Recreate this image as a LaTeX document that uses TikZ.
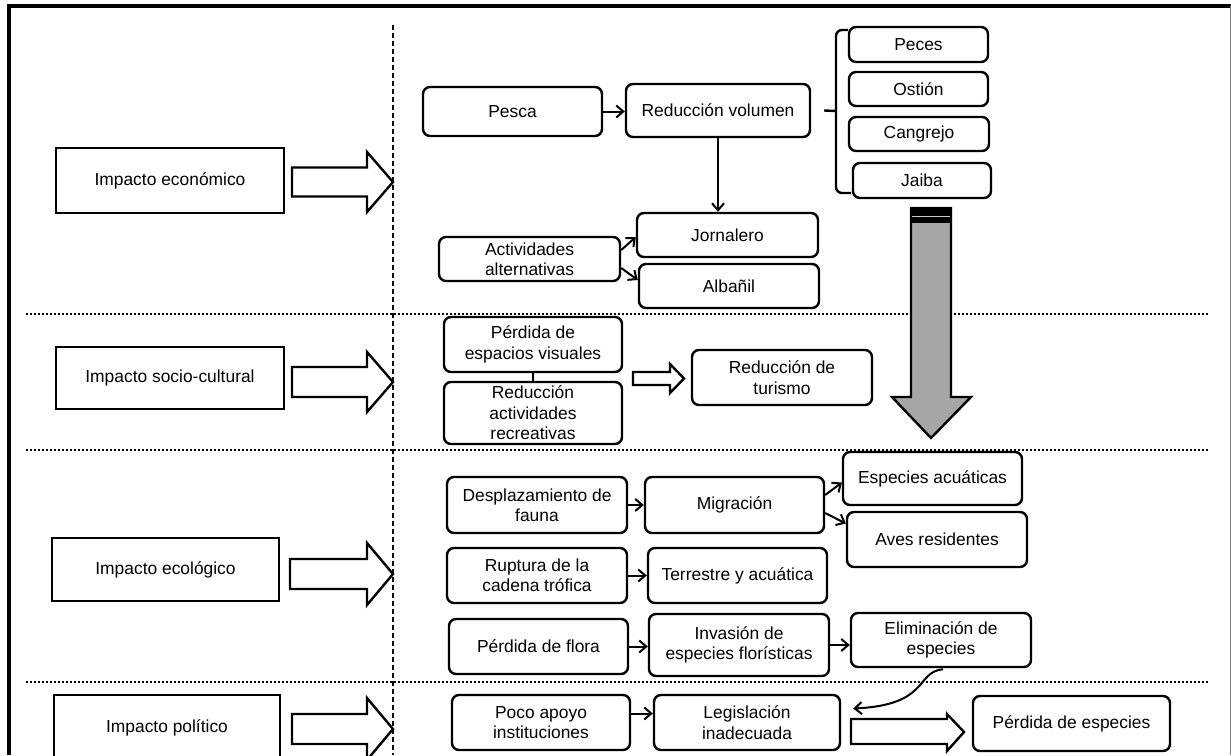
\documentclass[tikz,border=0pt]{standalone}
\usepackage{fontspec}
\setmainfont{Liberation Sans}
\usetikzlibrary{arrows.meta,calc}
\newcommand\mybox[7]{\node[#1, minimum width={(#4-#2)*0.5pt}, minimum height={(#5-#3)*0.5pt}] (#6) at ({(#2+#4)/2},{(#3+#5)/2}) {#7};}
\newcommand\blockarr[6]{\draw[blk] (#1,{#2-#5}) -- (#3,{#2-#5}) -- (#3,{#2-#6}) -- (#4,#2) -- (#3,{#2+#6}) -- (#3,{#2+#5}) -- (#1,{#2+#5}) -- cycle;}
\begin{document}
\begin{tikzpicture}[x=0.5pt,y=-0.5pt,
  font=\fontsize{8.7}{10.2}\selectfont,
  lbox/.style={draw,line width=1.2pt,inner sep=0pt,align=center,fill=white},
  rbox/.style={draw,line width=1.2pt,rounded corners=3.5pt,inner sep=0pt,align=center,fill=white},
  conn/.style={line width=1pt,-{Straight Barb[length=3.5pt,width=6pt]}},
  blk/.style={draw,line width=1.2pt,fill=white},
  sepline/.style={line width=1.2pt,dash pattern=on 1pt off 1pt},
]
\useasboundingbox (0,0) rectangle (1231,755);
\fill[white] (0,0) rectangle (1231,755);
% frame
\draw[line width=1.6pt] (9,755) -- (9,6) -- (1231,6);
\draw[gray, line width=0.5pt] (1230,6) -- (1230,755);
% separators
\draw[sepline] (26,314) -- (1210,314);
\draw[sepline] (26,450) -- (1210,450);
\draw[sepline] (26,682) -- (1210,682);
\draw[line width=0.9pt,dash pattern=on 2.5pt off 1.5pt] (393,25) -- (393,755);

% left boxes
\mybox{lbox}{56}{148}{284}{213}{econ}{Impacto económico}
\mybox{lbox}{56}{347}{284}{409}{soc}{Impacto socio-cultural}
\mybox{lbox}{52}{538}{279}{601}{eco}{Impacto ecológico}
\mybox{lbox}{54}{695}{280}{761}{pol}{Impacto político}
\blockarr{292}{182}{367}{393}{14.5}{30}
\blockarr{292}{382}{367}{393}{15}{30}
\blockarr{290}{574}{367}{393}{15}{31}
\blockarr{292}{729}{367}{393}{15}{31}

% economic
\mybox{rbox}{423}{87}{602}{136}{pesca}{Pesca}
\mybox{rbox}{626}{84}{810}{137}{redv}{Reducción volumen}
\mybox{rbox}{849}{27}{988}{62}{peces}{Peces}
\mybox{rbox}{849}{72}{988}{106}{ostion}{Ostión}
\mybox{rbox}{849}{117}{989}{151}{cang}{Cangrejo}
\mybox{rbox}{853}{163}{991}{198}{jaiba}{Jaiba}
\mybox{rbox}{439}{237}{620}{281}{act}{Actividades\\alternativas}
\mybox{rbox}{637}{213}{818}{257}{jorn}{Jornalero}
\mybox{rbox}{639}{264}{819}{308}{alb}{Albañil}
\draw[conn] (pesca.east) -- (pesca.east -| redv.west);
\draw[conn] (redv.south) -- (redv.south |- jorn.north);
\coordinate (br) at (836,111);
\draw[line width=1.2pt] ($(redv.east)+(13,0)$) -- (br);
\draw[line width=1.2pt,rounded corners=3pt] (848,30) -- (836,30) -- (836,193) -- (851,193);
\draw[conn] ($(act.east)+(0,-9)$) -- ($(jorn.west)+(0,2)$);
\draw[conn] ($(act.east)+(0,9)$) -- ($(alb.west)+(0,-6)$);

% socio-cultural
\mybox{rbox}{444}{317}{622}{372}{pesp}{Pérdida de\\espacios visuales}
\mybox{rbox}{444}{382}{622}{444}{ract}{Reducción\\actividades\\recreativas}
\mybox{rbox}{692}{350}{872}{405}{tur}{Reducción de\\turismo}
\draw[line width=1.2pt] (pesp.south) -- (ract.north);
\draw[blk] (633,372) -- (670,372) -- (670,364) -- (684,378.5) -- (670,393) -- (670,385) -- (633,385) -- cycle;

% gray arrow
\draw[line width=1.2pt, fill=gray!70] (911,208) -- (951,208) -- (951,397) -- (971,397) -- (931,438) -- (892,397) -- (911,397) -- cycle;
\fill (911,208) rectangle (951,223);
\draw[gray!40, line width=0.6pt] (912,216.5) -- (950,216.5);

% ecological
\mybox{rbox}{447}{477}{627}{533}{desp}{Desplazamiento de\\fauna}
\mybox{rbox}{645}{477}{824}{533}{migr}{Migración}
\mybox{rbox}{843}{452}{1022}{505}{esp}{Especies acuáticas}
\mybox{rbox}{847}{512}{1027}{567}{aves}{Aves residentes}
\mybox{rbox}{447}{548}{627}{603}{rupt}{Ruptura de la\\cadena trófica}
\mybox{rbox}{648}{548}{827}{603}{terr}{Terrestre y acuática}
\mybox{rbox}{449}{619}{628}{674}{flora}{Pérdida de flora}
\mybox{rbox}{649}{614}{829}{676}{inv}{Invasión de\\especies florísticas}
\mybox{rbox}{851}{613}{1031}{667}{elim}{Eliminación de\\especies}
\draw[conn] (desp.east) -- (desp.east -| migr.west);
\draw[conn] ($(migr.east)+(0,-10)$) -- ($(esp.west)+(0,4)$);
\draw[conn] ($(migr.east)+(0,8)$) -- ($(aves.west)+(0,-16)$);
\draw[conn] (rupt.east) -- (rupt.east -| terr.west);
\draw[conn] (flora.east) -- (flora.east -| inv.west);
\draw[conn] (inv.east) -- (inv.east -| elim.west);

% political
\mybox{rbox}{452}{695}{630}{750}{poco}{Poco apoyo\\instituciones}
\mybox{rbox}{654}{695}{840}{750}{leg}{Legislación\\inadecuada}
\mybox{rbox}{973}{696}{1170}{751}{perd}{Pérdida de especies}
\draw[conn] ($(poco.east)+(0,-9)$) -- ($(poco.east -| leg.west)+(0,-9)$);
\draw[conn] ($(elim.south)+(2,1)$) .. controls (915,672) and (930,705) .. ($(leg.east)+(12,-14)$);
\draw[blk] (851,719) -- (947,719) -- (947,714) -- (964,732) -- (947,751) -- (947,744) -- (851,744) -- cycle;
\end{tikzpicture}
\end{document}
